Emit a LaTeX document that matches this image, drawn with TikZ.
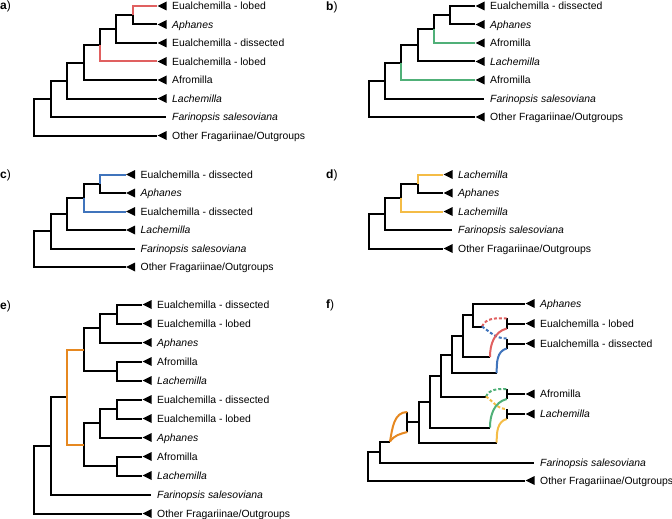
\documentclass[tikz,border=0pt]{standalone}
\usepackage{fontspec}
\setmainfont{Liberation Sans}
\usetikzlibrary{positioning,shapes.geometric}
\definecolor{retred}{RGB}{224,96,96}
\definecolor{retgreen}{RGB}{80,176,120}
\definecolor{retblue}{RGB}{64,116,188}
\definecolor{retyellow}{RGB}{244,188,70}
\definecolor{retorange}{RGB}{230,136,32}

\begin{document}
\begin{tikzpicture}[x=1pt,y=-1pt,
  br/.style={line width=2pt},
  hy/.style={line width=2pt},
  dsh/.style={hy,dash pattern=on 3pt off 2pt},
  tri/.style={isosceles triangle,isosceles triangle stretches,shape border rotate=180,
    fill=black,inner sep=0pt,minimum width=9pt,minimum height=9pt,anchor=apex},
  lab/.style={font=\fontsize{10.4}{12}\selectfont,inner sep=0pt,anchor=west,text height=8pt,text depth=0.6pt},
  plab/.style={font=\fontsize{12}{14}\selectfont,inner sep=0pt,anchor=west,text height=8.6pt,text depth=0.6pt}]
\useasboundingbox (0,0) rectangle (672,519);

% a)
\node[plab] (pa) at (0,6) {\textbf{a})};
\node[tri] (a1) at (157,6) {};
\node[lab,right=15pt of a1.apex] (a1l) {Eualchemilla - lobed};
\node[tri] (a2) at (157,24.5) {};
\node[lab,right=15pt of a2.apex] (a2l) {\textit{Aphanes}};
\node[tri] (a3) at (157,43) {};
\node[lab,right=15pt of a3.apex] (a3l) {Eualchemilla - dissected};
\node[tri] (a4) at (157,61.5) {};
\node[lab,right=15pt of a4.apex] (a4l) {Eualchemilla - lobed};
\node[tri] (a5) at (157,80) {};
\node[lab,right=15pt of a5.apex] (a5l) {Afromilla};
\node[tri] (a6) at (157,98.5) {};
\node[lab,right=15pt of a6.apex] (a6l) {\textit{Lachemilla}};
\coordinate (a7) at (166,117);
\node[lab,right=6pt of a7] (a7l) {\textit{Farinopsis salesoviana}};
\node[tri] (a8) at (157,135.5) {};
\node[lab,right=15pt of a8.apex] (a8l) {Other Fragariinae/Outgroups};
\coordinate (an1) at (132.7,15.25);
\coordinate (an2) at (116.3,29.13);
\coordinate (an3) at (99.9,45.31);
\coordinate (an4) at (83.5,62.66);
\coordinate (an5) at (67.1,80.58);
\coordinate (an6) at (50.7,98.79);
\coordinate (ar) at (34.3,117.15);
\draw[br] (an1) |- (a2.apex);
\draw[br] (an2) |- (an1); \draw[br] (an2) |- (a3.apex);
\draw[br] (an3) |- (an2);
\draw[br] (an4) |- (an3); \draw[br] (an4) |- (a5.apex);
\draw[br] (an5) |- (an4); \draw[br] (an5) |- (a6.apex);
\draw[br] (an6) |- (an5); \draw[br] (an6) |- (a7);
\draw[br] (ar) |- (an6); \draw[br] (ar) |- (a8.apex);
\draw[hy,retred] (an1) |- (a1.apex);
\draw[hy,retred] (an3) |- (a4.apex);

% b)
\node[plab] (pb) at (326,6.7) {\textbf{b})};
\node[tri] (b1) at (475,6) {};
\node[lab,right=15pt of b1.apex] (b1l) {Eualchemilla - dissected};
\node[tri] (b2) at (475,24.5) {};
\node[lab,right=15pt of b2.apex] (b2l) {\textit{Aphanes}};
\node[tri] (b3) at (475,43) {};
\node[lab,right=15pt of b3.apex] (b3l) {Afromilla};
\node[tri] (b4) at (475,61.5) {};
\node[lab,right=15pt of b4.apex] (b4l) {\textit{Lachemilla}};
\node[tri] (b5) at (475,80) {};
\node[lab,right=15pt of b5.apex] (b5l) {Afromilla};
\coordinate (b6) at (484,98.5);
\node[lab,right=6pt of b6] (b6l) {\textit{Farinopsis salesoviana}};
\node[tri] (b7) at (475,117) {};
\node[lab,right=15pt of b7.apex] (b7l) {Other Fragariinae/Outgroups};
\coordinate (bn1) at (450.2,15.25);
\coordinate (bn2) at (433.9,29.13);
\coordinate (bn3) at (417.6,45.31);
\coordinate (bn4) at (401.3,62.66);
\coordinate (bn5) at (385,80.58);
\coordinate (broot) at (368.7,98.79);
\draw[br] (bn1) |- (b1.apex); \draw[br] (bn1) |- (b2.apex);
\draw[br] (bn2) |- (bn1);
\draw[br] (bn3) |- (bn2); \draw[br] (bn3) |- (b4.apex);
\draw[br] (bn4) |- (bn3);
\draw[br] (bn5) |- (bn4); \draw[br] (bn5) |- (b6);
\draw[br] (broot) |- (bn5); \draw[br] (broot) |- (b7.apex);
\draw[hy,retgreen] (bn2) |- (b3.apex);
\draw[hy,retgreen] (bn4) |- (b5.apex);

% c)
\node[plab] (pc) at (0,174.5) {\textbf{c})};
\node[tri] (c1) at (125.5,174.5) {};
\node[lab,right=15pt of c1.apex] (c1l) {Eualchemilla - dissected};
\node[tri] (c2) at (125.5,193) {};
\node[lab,right=15pt of c2.apex] (c2l) {\textit{Aphanes}};
\node[tri] (c3) at (125.5,211.5) {};
\node[lab,right=15pt of c3.apex] (c3l) {Eualchemilla - dissected};
\node[tri] (c4) at (125.5,230) {};
\node[lab,right=15pt of c4.apex] (c4l) {\textit{Lachemilla}};
\coordinate (c5) at (134.5,248.5);
\node[lab,right=6pt of c5] (c5l) {\textit{Farinopsis salesoviana}};
\node[tri] (c6) at (125.5,267) {};
\node[lab,right=15pt of c6.apex] (c6l) {Other Fragariinae/Outgroups};
\coordinate (cn1) at (99.9,183.75);
\coordinate (cn2) at (83.5,197.63);
\coordinate (cn3) at (67.1,213.81);
\coordinate (cn4) at (50.7,231.16);
\coordinate (cr) at (34.3,249.08);
\draw[br] (cn1) |- (c2.apex);
\draw[br] (cn2) |- (cn1);
\draw[br] (cn3) |- (cn2); \draw[br] (cn3) |- (c4.apex);
\draw[br] (cn4) |- (cn3); \draw[br] (cn4) |- (c5);
\draw[br] (cr) |- (cn4); \draw[br] (cr) |- (c6.apex);
\draw[hy,retblue] (cn1) |- (c1.apex);
\draw[hy,retblue] (cn2) |- (c3.apex);

% d)
\node[plab] (pd) at (326,174.5) {\textbf{d})};
\node[tri] (d1) at (443,174.5) {};
\node[lab,right=15pt of d1.apex] (d1l) {\textit{Lachemilla}};
\node[tri] (d2) at (443,193) {};
\node[lab,right=15pt of d2.apex] (d2l) {\textit{Aphanes}};
\node[tri] (d3) at (443,211.5) {};
\node[lab,right=15pt of d3.apex] (d3l) {\textit{Lachemilla}};
\coordinate (d4) at (452,230);
\node[lab,right=6pt of d4] (d4l) {\textit{Farinopsis salesoviana}};
\node[tri] (d5) at (443,248.5) {};
\node[lab,right=15pt of d5.apex] (d5l) {Other Fragariinae/Outgroups};
\coordinate (dn1) at (417.6,183.75);
\coordinate (dn2) at (401.3,197.63);
\coordinate (dn3) at (385,213.81);
\coordinate (dr) at (368.7,231.16);
\draw[br] (dn1) |- (d2.apex);
\draw[br] (dn2) |- (dn1);
\draw[br] (dn3) |- (dn2); \draw[br] (dn3) |- (d4);
\draw[br] (dr) |- (dn3); \draw[br] (dr) |- (d5.apex);
\draw[hy,retyellow] (dn1) |- (d1.apex);
\draw[hy,retyellow] (dn2) |- (d3.apex);

% e)
\node[plab] (pe) at (0,305) {\textbf{e})};
\node[tri] (e1) at (142,304.5) {};
\node[lab,right=15pt of e1.apex] (e1l) {Eualchemilla - dissected};
\node[tri] (e2) at (142,323.5) {};
\node[lab,right=15pt of e2.apex] (e2l) {Eualchemilla - lobed};
\node[tri] (e3) at (142,342.5) {};
\node[lab,right=15pt of e3.apex] (e3l) {\textit{Aphanes}};
\node[tri] (e4) at (142,361.5) {};
\node[lab,right=15pt of e4.apex] (e4l) {Afromilla};
\node[tri] (e5) at (142,380.5) {};
\node[lab,right=15pt of e5.apex] (e5l) {\textit{Lachemilla}};
\node[tri] (e6) at (142,399.5) {};
\node[lab,right=15pt of e6.apex] (e6l) {Eualchemilla - dissected};
\node[tri] (e7) at (142,418.5) {};
\node[lab,right=15pt of e7.apex] (e7l) {Eualchemilla - lobed};
\node[tri] (e8) at (142,437.5) {};
\node[lab,right=15pt of e8.apex] (e8l) {\textit{Aphanes}};
\node[tri] (e9) at (142,456.5) {};
\node[lab,right=15pt of e9.apex] (e9l) {Afromilla};
\node[tri] (e10) at (142,475.5) {};
\node[lab,right=15pt of e10.apex] (e10l) {\textit{Lachemilla}};
\coordinate (e11) at (151,494.5);
\node[lab,right=6pt of e11] (e11l) {\textit{Farinopsis salesoviana}};
\node[tri] (e12) at (142,513.5) {};
\node[lab,right=15pt of e12.apex] (e12l) {Other Fragariinae/Outgroups};
\coordinate (en1) at (116.8,314);
\coordinate (en2) at (100.3,328.25);
\coordinate (en3) at (116.8,371);
\coordinate (en4) at (83.8,349.63);
\coordinate (en5) at (116.8,409);
\coordinate (en6) at (100.3,423.25);
\coordinate (en7) at (116.8,466);
\coordinate (en8) at (83.8,444.63);
\coordinate (eh) at (67.3,397.13);
\coordinate (en9) at (50.8,445.81);
\coordinate (er) at (34.3,479.66);
\draw[br] (en1) |- (e1.apex); \draw[br] (en1) |- (e2.apex);
\draw[br] (en2) |- (en1); \draw[br] (en2) |- (e3.apex);
\draw[br] (en3) |- (e4.apex); \draw[br] (en3) |- (e5.apex);
\draw[br] (en4) |- (en2); \draw[br] (en4) |- (en3);
\draw[br] (en5) |- (e6.apex); \draw[br] (en5) |- (e7.apex);
\draw[br] (en6) |- (en5); \draw[br] (en6) |- (e8.apex);
\draw[br] (en7) |- (e9.apex); \draw[br] (en7) |- (e10.apex);
\draw[br] (en8) |- (en6); \draw[br] (en8) |- (en7);
\draw[br] (en9) |- (eh); \draw[br] (en9) |- (e11);
\draw[br] (er) |- (en9); \draw[br] (er) |- (e12.apex);
\draw[hy,retorange] (eh) |- (en4);
\draw[hy,retorange] (eh) |- (en8);

% f)
\node[plab] (pf) at (326,304) {\textbf{f})};
\node[tri] (fa) at (525,303.5) {};
\node[lab,right=15pt of fa.apex] (fal) {\textit{Aphanes}};
\node[tri] (fl) at (525,323.5) {};
\node[lab,right=15pt of fl.apex] (fll) {Eualchemilla - lobed};
\node[tri] (fd) at (525,343.5) {};
\node[lab,right=15pt of fd.apex] (fdl) {Eualchemilla - dissected};
\node[tri] (ff) at (525,394) {};
\node[lab,right=15pt of ff.apex] (ffl) {Afromilla};
\node[tri] (fc) at (525,414) {};
\node[lab,right=15pt of fc.apex] (fcl) {\textit{Lachemilla}};
\coordinate (fs) at (534,462.5);
\node[lab,right=6pt of fs] (fsl) {\textit{Farinopsis salesoviana}};
\node[tri] (fo) at (525,480.5) {};
\node[lab,right=15pt of fo.apex] (fol) {Other Fragariinae/Outgroups};
% tip bars
\coordinate (lbt) at (506.7,318.3); \coordinate (lbm) at (506.7,323.5); \coordinate (lbb) at (506.7,328.5);
\coordinate (dbt) at (506.7,338.5); \coordinate (dbm) at (506.7,343.5); \coordinate (dbb) at (506.7,348.5);
\coordinate (abt) at (506.7,389); \coordinate (abm) at (506.7,394); \coordinate (abb) at (506.7,399);
\coordinate (cbt) at (506.7,409); \coordinate (cbm) at (506.7,414); \coordinate (cbb) at (506.7,419);
\draw[br] (lbt) -- (lbb); \draw[br] (lbm) -- (fl.apex);
\draw[br] (dbt) -- (dbb); \draw[br] (dbm) -- (fd.apex);
\draw[br] (abt) -- (abb); \draw[br] (abm) -- (ff.apex);
\draw[br] (cbt) -- (cbb); \draw[br] (cbm) -- (fc.apex);
% backbone
\coordinate (fn1) at (473.3,315);    \coordinate (f1e) at (482,326.5);
\coordinate (fn2) at (463.3,336);    \coordinate (f2e) at (490,357);
\coordinate (fn3) at (451.7,354.5);  \coordinate (f3e) at (496.7,373);
\coordinate (fn4) at (441,375.5);    \coordinate (f4e) at (486,396.5);
\coordinate (fn5) at (430.3,401.5);  \coordinate (f5e) at (490,427.5);
\coordinate (fn6) at (418.7,422);    \coordinate (f6e) at (496.7,442.5);
\coordinate (hb) at (407.3,422);
\coordinate (hbt) at (407.3,412); \coordinate (hbb) at (407.3,432);
\coordinate (hs) at (390,441.5);
\coordinate (fn7) at (380,452);
\coordinate (fr) at (368.3,466.25);
\draw[br] (fn1) |- (fa.apex); \draw[br] (fn1) |- (f1e);
\draw[br] (fn2) |- (fn1); \draw[br] (fn2) |- (f2e);
\draw[br] (fn3) |- (fn2); \draw[br] (fn3) |- (f3e);
\draw[br] (fn4) |- (fn3); \draw[br] (fn4) |- (f4e);
\draw[br] (fn5) |- (fn4); \draw[br] (fn5) |- (f5e);
\draw[br] (fn6) |- (fn5); \draw[br] (fn6) |- (f6e);
\draw[br] (hb) -- (fn6); \draw[br] (hbt) -- (hbb);
\draw[br] (fn7) |- (hs); \draw[br] (fn7) |- (fs);
\draw[br] (fr) |- (fn7); \draw[br] (fr) |- (fo.apex);
% reticulations
\draw[dsh,retred] (f1e) to[out=65,in=180] (lbt);
\draw[dsh,retblue] (f1e) to[out=-35,in=180] (dbt);
\draw[hy,retred] (f2e) to[out=90,in=195] (lbb);
\draw[hy,retblue] (f3e) to[out=90,in=195] (dbb);
\draw[dsh,retgreen] (f4e) to[out=65,in=180] (abt);
\draw[dsh,retyellow] (f4e) to[out=-35,in=180] (cbt);
\draw[hy,retgreen] (f5e) to[out=90,in=195] (abb);
\draw[hy,retyellow] (f6e) to[out=90,in=195] (cbb);
\draw[hy,retorange] (hs) to[out=80,in=180] (hbt);
\draw[hy,retorange] (hs) to[out=55,in=195] (hbb);
\end{tikzpicture}
\end{document}
